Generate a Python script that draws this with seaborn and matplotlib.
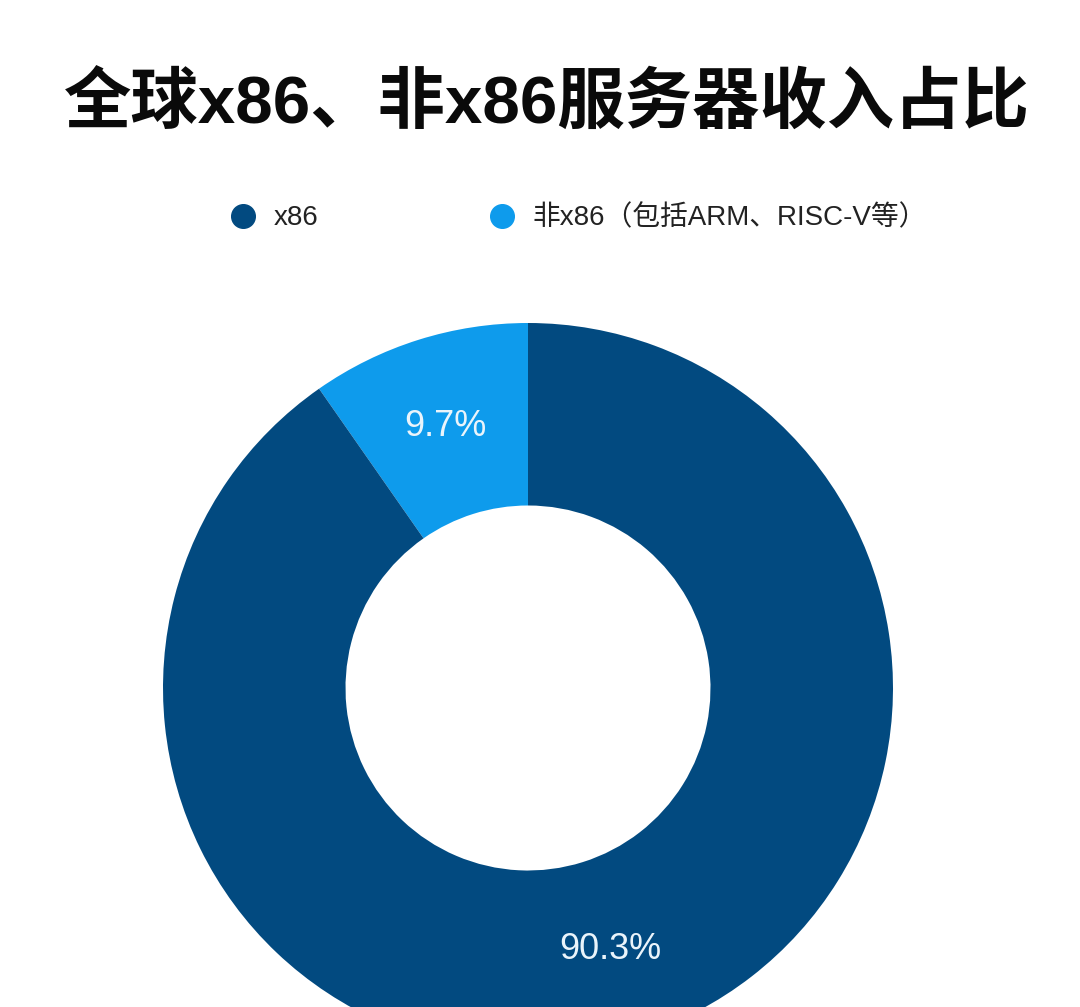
import matplotlib
matplotlib.use("Agg")
import matplotlib.pyplot as plt
from matplotlib.lines import Line2D
import seaborn as sns

# data
labels = ["非x86（包括ARM、RISC-V等）", "x86"]
shares = [9.7, 90.3]
colors = ["#0E9BEC", "#024A80"]
legend_order = [1, 0]

sns.set_theme(style="white")
plt.rcParams['font.family'] = ['Liberation Sans', 'Noto Sans CJK SC', 'DejaVu Sans']

W, H = 1080, 1007
fig = plt.figure(figsize=(W / 100, H / 100), dpi=100)

# donut centre and radius in pixels
cx, cy, r = 528, 688, 365
ax = fig.add_axes([(cx - r) / W, (H - cy - r) / H, 2 * r / W, 2 * r / H])

wedges, texts, autotexts = ax.pie(
    shares, colors=colors, startangle=90, counterclock=True,
    autopct=lambda p: f"{p:.1f}%", pctdistance=0.75,
    wedgeprops=dict(width=0.5, edgecolor="none"),
    textprops=dict(color="#eaf4fb", fontsize=26))
ax.set_xlim(-1, 1)
ax.set_ylim(-1, 1)
ax.set_aspect("equal")
ax.axis("off")

fig.text(547 / W, 1 - 106 / H, "全球x86、非x86服务器收入占比",
         ha="center", va="center", fontsize=48.5, fontweight="black", color="#0a0a0a")

handles = [Line2D([0], [0], marker="o", linestyle="none", markersize=17,
                  markerfacecolor=colors[i], markeredgecolor=colors[i])
           for i in legend_order]
fig.legend(handles, [labels[i] for i in legend_order], loc="center left",
           bbox_to_anchor=(229 / W, 1 - 218 / H), ncol=2, frameon=False,
           fontsize=20, handlelength=1.0, handletextpad=0.6, columnspacing=6.1,
           borderpad=0, borderaxespad=0, labelcolor="#222222")

fig.savefig("out.png", dpi=100, facecolor="white")
